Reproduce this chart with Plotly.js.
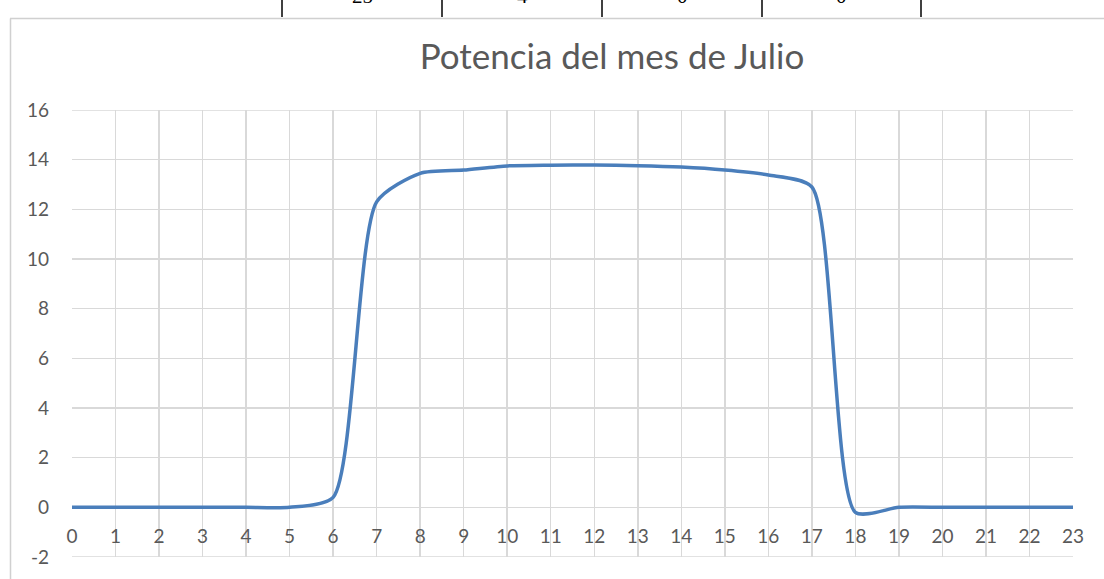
<!DOCTYPE html>
<html>
<head>
<meta charset="utf-8">
<script src="https://cdn.plot.ly/plotly-3.0.1.min.js"></script>
<style>
  html, body { margin: 0; padding: 0; background: #ffffff; }
  #chart { width: 1104px; height: 579px; }
</style>
</head>
<body>
<div id="chart"></div>
<script>
// Data
const hours = [0,1,2,3,4,5,6,7,8,9,10,11,12,13,14,15,16,17,18,19,20,21,22,23];
const potencia = [0,0,0,0,0,0,0.4,12.3,13.45,13.58,13.75,13.78,13.79,13.76,13.7,13.58,13.38,12.9,-0.2,0,0,0,0,0];
const xTicks = [0,1,2,3,4,5,6,7,8,9,10,11,12,13,14,15,16,17,18,19,20,21,22,23];
const yTicks = [-2,0,2,4,6,8,10,12,14,16];
const tableTexts = ["25", "4", "0", "0"];
const chartTitle = "Potencia del mes de Julio";

const L = 72, R = 1073, T = 110, B = 557;
const px2x = p => (p - L) / (R - L);
const py2y = p => (B - p) / (B - T);

const tableLinesX = [282, 442, 602, 762, 921];
const tableCentersX = [362, 522, 682, 841];

const shapes = [];
tableLinesX.forEach(p => shapes.push({
  type: 'line', xref: 'paper', yref: 'paper',
  x0: px2x(p), x1: px2x(p), y0: py2y(-2), y1: py2y(17),
  line: { color: '#000000', width: 1.5 }
}));
// outer chart frame
shapes.push({
  type: 'line', xref: 'paper', yref: 'paper',
  x0: px2x(10), x1: px2x(1110), y0: py2y(18.5), y1: py2y(18.5),
  line: { color: '#d0d0d0', width: 1.5 }
});
shapes.push({
  type: 'line', xref: 'paper', yref: 'paper',
  x0: px2x(10.5), x1: px2x(10.5), y0: py2y(18.5), y1: py2y(585),
  line: { color: '#d0d0d0', width: 1.5 }
});
// top and bottom gridlines of the plot area (at 16 and -2)
[yTicks[0], yTicks[yTicks.length - 1]].forEach(v => shapes.push({
  type: 'line', xref: 'paper', yref: 'y',
  x0: 0, x1: 1, y0: v, y1: v,
  line: { color: '#d9d9d9', width: 1.5 }, layer: 'below'
}));

const annotations = tableTexts.map((t, i) => ({
  xref: 'paper', yref: 'paper', x: px2x(tableCentersX[i]), y: py2y(10),
  xanchor: 'center', yanchor: 'bottom', showarrow: false, text: t,
  font: { family: 'Liberation Serif, serif', size: 21, color: '#000000' }
}));

const trace = {
  x: hours, y: potencia, type: 'scatter', mode: 'lines',
  line: { color: '#4a7ebb', width: 3.5, shape: 'spline', smoothing: 0.65 },
  hoverinfo: 'skip'
};

const layout = {
  width: 1104, height: 579,
  margin: { l: L, r: 1104 - R, t: T, b: 579 - B, pad: 0 },
  paper_bgcolor: '#ffffff', plot_bgcolor: '#ffffff',
  showlegend: false,
  title: {
    text: chartTitle, x: (612 - L) / (R - L), xref: 'paper', y: 1 - 57/579, yanchor: 'middle', xanchor: 'center',
    font: { family: 'Lato, sans-serif', size: 35, color: '#595959' }
  },
  xaxis: {
    range: [0, 23], tickvals: xTicks, ticktext: xTicks.map(String),
    anchor: 'free', position: 2/18,
    showgrid: true, gridcolor: '#d9d9d9', gridwidth: 1.5,
    zeroline: false, showline: false, ticks: '',
    ticklabelstandoff: 16,
    tickfont: { family: 'Lato, sans-serif', size: 19, color: '#595959' }
  },
  yaxis: {
    range: [-2, 16], tickvals: yTicks, ticktext: yTicks.map(String),
    showgrid: true, gridcolor: '#d9d9d9', gridwidth: 1.5,
    zeroline: false, showline: false, ticks: '',
    ticklabelstandoff: 22,
    tickfont: { family: 'Lato, sans-serif', size: 19, color: '#595959' }
  },
  shapes: shapes,
  annotations: annotations
};

Plotly.newPlot('chart', [trace], layout, { displayModeBar: false, staticPlot: true });
</script>
</body>
</html>
